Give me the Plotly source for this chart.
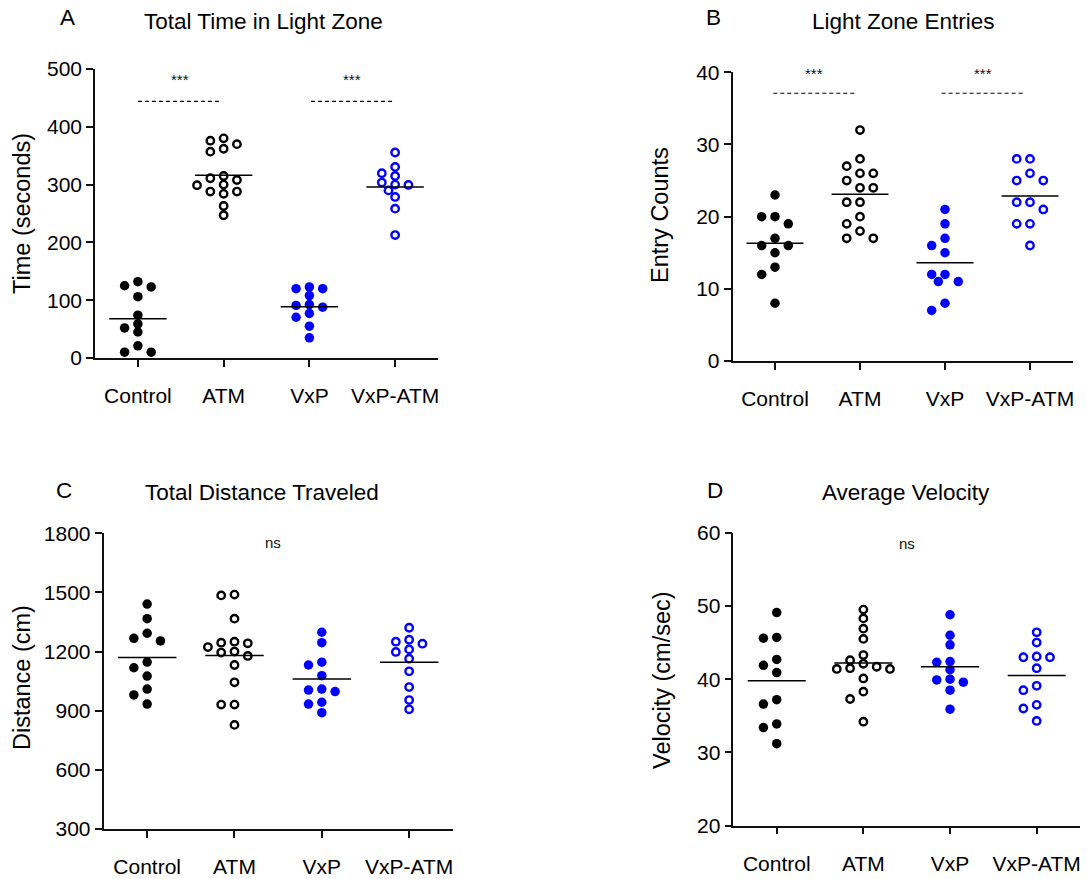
import plotly.graph_objects as go

groups = ["Control", "ATM", "VxP", "VxP-ATM"]

# Panel A - Total Time in Light Zone (seconds)
time_control = [132, 125, 123, 106, 74, 59, 52, 45, 21, 10, 10]
time_atm = [380, 376, 370, 362, 357, 315, 311, 308, 300, 299, 288, 288, 284, 263, 247]
time_vxp = [123, 120, 120, 108, 92.5, 91, 88, 77, 70.5, 55, 35]
time_vxp_atm = [355.5, 330.6, 319.7, 315, 303.5, 300, 299.4, 290, 278.6, 258.4, 212.7]
time_lines = [68, 316, 88.5, 296]

# Panel B - Light Zone Entries (counts)
entries_control = [23, 20, 20, 19, 17, 16, 16, 15, 13, 12, 8]
entries_atm = [32, 28, 27, 26, 26, 25, 24, 24, 22, 22, 20, 19, 18, 17, 17]
entries_vxp = [21, 19, 17, 16, 15, 12, 12, 11, 11, 8, 7]
entries_vxp_atm = [28, 28, 26, 25, 25, 22, 22, 21, 19, 19, 16]
entries_lines = [16.3, 23.1, 13.6, 22.85]

# Panel C - Total Distance Traveled (cm)
distance_control = [1441, 1367, 1293, 1267, 1254, 1147, 1118, 1076, 1010, 980, 934]
distance_atm = [1489, 1485, 1367, 1250, 1245, 1242, 1223, 1200, 1195, 1178, 1132, 1044, 931, 931, 828]
distance_vxp = [1298, 1245, 1146, 1132, 1078, 1010, 1005, 997, 943, 934, 890]
distance_vxp_atm = [1321, 1260, 1250, 1240, 1211, 1198, 1164, 1100, 1020, 954, 907]
distance_lines = [1170, 1180, 1061, 1146]

# Panel D - Average Velocity (cm/sec)
velocity_control = [49.1, 45.7, 45.6, 42.7, 41.9, 40.9, 37.2, 36.6, 33.9, 33.4, 31.2]
velocity_atm = [49.5, 48.3, 46.9, 45.5, 43.3, 42.6, 42.1, 41.7, 41.5, 41.4, 41.4, 40.1, 38.3, 37.3, 34.2]
velocity_vxp = [48.8, 46.0, 44.7, 42.4, 42.3, 41.3, 40.0, 39.9, 39.6, 38.5, 35.9]
velocity_vxp_atm = [46.4, 45.0, 43.1, 43.0, 43.0, 41.5, 39.1, 38.5, 36.5, 36.0, 34.3]
velocity_lines = [39.8, 42.2, 41.7, 40.5]

W, H = 1087, 879
FONT = "Arial, Liberation Sans, sans-serif"
AX = "#111111"

panels = [
    dict(letter="A", title="Total Time in Light Zone", ytitle="Time (seconds)",
         series=[time_control, time_atm, time_vxp, time_vxp_atm], lines=time_lines,
         xdom=(95, 438), ydom=(69, 358), yr=(0, 500), ticks=[0, 100, 200, 300, 400, 500],
         title_xy=(263, 21), letter_xy=(67, 18), ytitle_xy=(22, 214),
         sig=[(0, 0.98, 444, 481), (2.02, 2.98, 444, 481)], ns=None),
    dict(letter="B", title="Light Zone Entries", ytitle="Entry Counts",
         series=[entries_control, entries_atm, entries_vxp, entries_vxp_atm], lines=entries_lines,
         xdom=(732.5, 1072.5), ydom=(72.3, 361), yr=(0, 40), ticks=[0, 10, 20, 30, 40],
         title_xy=(903, 21), letter_xy=(714, 18), ytitle_xy=(660, 215),
         sig=[(-0.02, 0.94, 37.1, 39.85), (1.96, 2.93, 37.1, 39.85)], ns=None),
    dict(letter="C", title="Total Distance Traveled", ytitle="Distance (cm)",
         series=[distance_control, distance_atm, distance_vxp, distance_vxp_atm], lines=distance_lines,
         xdom=(103.5, 452.8), ydom=(533.3, 829), yr=(300, 1800), ticks=[300, 600, 900, 1200, 1500, 1800],
         title_xy=(262, 492), letter_xy=(64, 490), ytitle_xy=(22, 678),
         sig=[], ns=(1.44, 1752)),
    dict(letter="D", title="Average Velocity", ytitle="Velocity (cm/sec)",
         series=[velocity_control, velocity_atm, velocity_vxp, velocity_vxp_atm], lines=velocity_lines,
         xdom=(733.4, 1080), ydom=(532.7, 825.7), yr=(20, 60), ticks=[20, 30, 40, 50, 60],
         title_xy=(906, 492), letter_xy=(715, 490), ytitle_xy=(662, 680),
         sig=[], ns=(1.5, 58.46)),
]

colors = ["#000000", "#000000", "#0000FF", "#0000FF"]
filled = [True, False, True, False]

STEP_PX = 13.3
MIN_DIST_PX = 8.0
CANDIDATES = [0, -1, 1, -0.5, 0.5, -2, 2, -1.5, 1.5, -3, 3]


def swarm(values, px_per_unit):
    order = sorted(range(len(values)), key=lambda i: -values[i])
    placed = []
    offs = [0] * len(values)
    for i in order:
        y = values[i] * px_per_unit
        chosen = 0
        for k in CANDIDATES:
            if all(((k - pk) * STEP_PX) ** 2 + (y - py) ** 2 >= MIN_DIST_PX ** 2 for pk, py in placed):
                chosen = k
                break
        placed.append((chosen, y))
        offs[i] = chosen
    return offs


fig = go.Figure()
layout = dict(width=W, height=H, margin=dict(l=0, r=0, t=0, b=0, autoexpand=False),
              paper_bgcolor="white", plot_bgcolor="white", showlegend=False,
              font=dict(family=FONT, color="#000000"))
shapes = []
annotations = []

for p_i, p in enumerate(panels):
    n = "" if p_i == 0 else str(p_i + 1)
    xa, ya = "x" + n, "y" + n
    xd = (p["xdom"][0] / W, p["xdom"][1] / W)
    yd = (1 - p["ydom"][1] / H, 1 - p["ydom"][0] / H)
    plot_w = p["xdom"][1] - p["xdom"][0]
    plot_h = p["ydom"][1] - p["ydom"][0]
    ppu = plot_h / (p["yr"][1] - p["yr"][0])
    step_cat = STEP_PX / (plot_w / 4.0)

    for g, vals in enumerate(p["series"]):
        offs = swarm(vals, ppu)
        xs = [g + k * step_cat for k in offs]
        if filled[g]:
            marker = dict(symbol="circle", size=9.5, color=colors[g], line=dict(width=0))
        else:
            marker = dict(symbol="circle-open", size=7.4, color=colors[g], line=dict(width=2.4, color=colors[g]))
        fig.add_trace(go.Scatter(x=xs, y=vals, mode="markers", marker=marker,
                                 xaxis=xa, yaxis=ya, cliponaxis=False, hoverinfo="y"))
        shapes.append(dict(type="line", xref=xa, yref=ya, x0=g - 0.335, x1=g + 0.335,
                           y0=p["lines"][g], y1=p["lines"][g], line=dict(color="#000000", width=1.5)))

    for (x0, x1, yl, ys) in p["sig"]:
        shapes.append(dict(type="line", xref=xa, yref=ya, x0=x0, x1=x1, y0=yl, y1=yl,
                           line=dict(color="#000000", width=1.2, dash="4px,3px")))
        annotations.append(dict(xref=xa, yref=ya, x=(x0 + x1) / 2, y=ys, text="***", showarrow=False,
                                font=dict(size=15, color="#111111"), yanchor="middle", xanchor="center"))
    if p["ns"]:
        annotations.append(dict(xref=xa, yref=ya, x=p["ns"][0], y=p["ns"][1], text="ns", showarrow=False,
                                font=dict(size=15, color="#111111"), yanchor="middle", xanchor="center"))

    annotations.append(dict(xref="paper", yref="paper", x=p["title_xy"][0] / W, y=1 - p["title_xy"][1] / H,
                            text=p["title"], showarrow=False, font=dict(size=22.5),
                            xanchor="center", yanchor="middle"))
    annotations.append(dict(xref="paper", yref="paper", x=p["letter_xy"][0] / W, y=1 - p["letter_xy"][1] / H,
                            text=p["letter"], showarrow=False, font=dict(size=22.5),
                            xanchor="center", yanchor="middle"))
    annotations.append(dict(xref="paper", yref="paper", x=p["ytitle_xy"][0] / W, y=1 - p["ytitle_xy"][1] / H,
                            text=p["ytitle"], showarrow=False, font=dict(size=23.5), textangle=-90,
                            xanchor="center", yanchor="middle"))

    layout["xaxis" + n] = dict(domain=list(xd), range=[-0.5, 3.5], tickvals=[0, 1, 2, 3], ticktext=groups,
                               showline=True, linecolor=AX, linewidth=1.5, ticks="outside", ticklen=7,
                               tickwidth=1.5, tickcolor=AX, showgrid=False, zeroline=False,
                               tickfont=dict(size=21, color="#000000"), anchor=ya, ticklabelstandoff=11,
                               fixedrange=True, automargin=False)
    layout["yaxis" + n] = dict(domain=list(yd), range=list(p["yr"]), tickvals=p["ticks"],
                               showline=True, linecolor=AX, linewidth=1.5, ticks="outside", ticklen=7,
                               tickwidth=1.5, tickcolor=AX, showgrid=False, zeroline=False,
                               tickfont=dict(size=21, color="#000000"), anchor=xa, fixedrange=True,
                               automargin=False)

layout["shapes"] = shapes
layout["annotations"] = annotations
fig.update_layout(**layout)
fig.write_html("out.html")
